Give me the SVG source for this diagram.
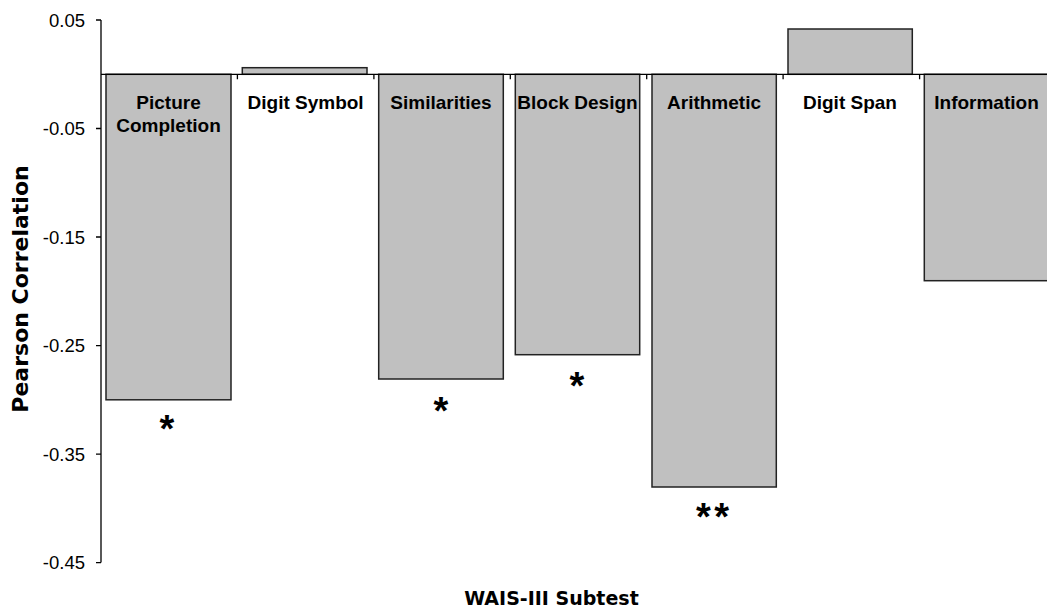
<svg xmlns="http://www.w3.org/2000/svg" width="1047" height="610" viewBox="0 0 1047 610">
<style>
.bar{fill:#c0c0c0;stroke:#222;stroke-width:1.5}
.ax{stroke:#000;stroke-width:1.3;fill:none}
.tk{font-family:"Liberation Sans",Arial,sans-serif;font-size:18.5px;fill:#000;text-anchor:end}
.cat{font-family:"Liberation Sans",Arial,sans-serif;font-size:19px;font-weight:bold;fill:#000;text-anchor:middle}
.star{font-family:"Liberation Sans",Arial,sans-serif;font-size:38px;font-weight:bold;fill:#000;text-anchor:middle}
.ttl{font-family:"DejaVu Sans",Verdana,sans-serif;font-weight:bold;fill:#000;text-anchor:middle}
</style>
<rect width="1047" height="610" fill="#fff"/>
<g id="bars">
<rect id="bar-picture-completion" class="bar" x="106" y="74.3" width="125" height="325.5"/>
<rect id="bar-digit-symbol" class="bar" x="242.3" y="67.7" width="124.7" height="6.6"/>
<rect id="bar-similarities" class="bar" x="378.7" y="74.3" width="124.6" height="304.7"/>
<rect id="bar-block-design" class="bar" x="515.3" y="74.3" width="124.4" height="280.4"/>
<rect id="bar-arithmetic" class="bar" x="652" y="74.3" width="124.3" height="412.7"/>
<rect id="bar-digit-span" class="bar" x="788" y="29" width="124.3" height="45.3"/>
<rect id="bar-information" class="bar" x="924.3" y="74.3" width="124.5" height="206.4"/>
</g>
<g id="axes">
<path class="ax" d="M101 20V562.6M96 20H101M96 128.5H101M96 237H101M96 345.6H101M96 454.1H101M96 562.6H101"/>
<path class="ax" d="M101 74.3H1047"/>
<path class="ax" stroke-width="1" d="M237.4 74.3v5M373.9 74.3v5M510.3 74.3v5M646.7 74.3v5M783.1 74.3v5M919.6 74.3v5"/>
</g>
<g id="ticklabels">
<text class="tk" x="85" y="26.5">0.05</text>
<text class="tk" x="85" y="135">-0.05</text>
<text class="tk" x="85" y="243.5">-0.15</text>
<text class="tk" x="85" y="352">-0.25</text>
<text class="tk" x="85" y="460.5">-0.35</text>
<text class="tk" x="85" y="569">-0.45</text>
</g>
<g id="labels">
<text class="cat" x="168.5" y="109.3">Picture</text>
<text class="cat" x="168.5" y="132.3">Completion</text>
<text class="cat" x="305.6" y="109.3">Digit Symbol</text>
<text class="cat" x="441" y="109.3">Similarities</text>
<text class="cat" x="577.5" y="109.3">Block Design</text>
<text class="cat" x="714" y="109.3">Arithmetic</text>
<text class="cat" x="850" y="109.3">Digit Span</text>
<text class="cat" x="986.5" y="109.3">Information</text>
</g>
<g id="stars">
<text class="star" x="167" y="442">*</text>
<text class="star" x="441" y="424">*</text>
<text class="star" x="577" y="399">*</text>
<text class="star" x="703.3" y="530">*</text>
<text class="star" x="721.7" y="530">*</text>
</g>
<g id="titles">
<text class="ttl" x="551.5" y="605" font-size="19">WAIS-III Subtest</text>
<text class="ttl" transform="translate(28 289) rotate(-90)" font-size="22">Pearson Correlation</text>
</g>
</svg>
